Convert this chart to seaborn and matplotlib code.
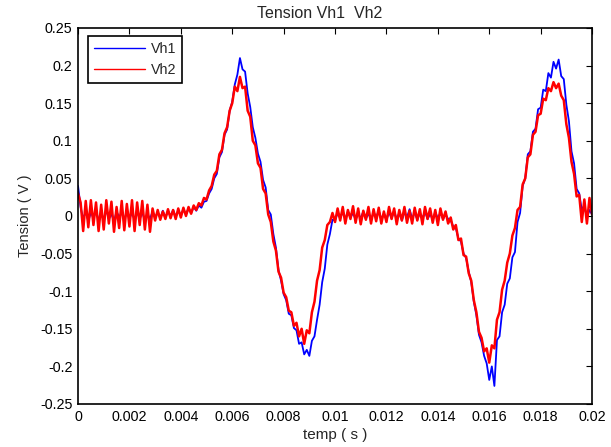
import numpy as np
import pandas as pd
import matplotlib
matplotlib.use("Agg")
import matplotlib.pyplot as plt
import seaborn as sns
from matplotlib.ticker import FuncFormatter

# time grid (s), one sample every 0.1 ms
t = np.linspace(0, 0.02, 201)

# Vh1 (blue)
vh1 = [
    0.040, 0.012, -0.004, 0.006, -0.007, 0.005, -0.003, 0.007, -0.006, 0.004,
    -0.005, 0.008, -0.004, 0.003, -0.007, 0.006, -0.002, 0.005, -0.006, 0.007,
    -0.003, 0.004, -0.005, 0.006, -0.004, 0.005, -0.006, 0.003, -0.004, 0.006,
    -0.002, 0.005, -0.003, 0.007, -0.002, 0.006, 0.000, 0.008, -0.001, 0.007,
    0.001, 0.009, 0.002, 0.010, 0.004, 0.012, 0.007, 0.014, 0.011, 0.019,
    0.020, 0.030, 0.036, 0.050, 0.056, 0.078, 0.085, 0.108, 0.115, 0.140,
    0.152, 0.175, 0.188, 0.210, 0.195, 0.192, 0.163, 0.145, 0.118, 0.104,
    0.083, 0.072, 0.048, 0.038, 0.008, 0.002, -0.024, -0.042, -0.072, -0.086,
    -0.104, -0.112, -0.130, -0.132, -0.149, -0.152, -0.170, -0.168, -0.184, -0.178,
    -0.186, -0.166, -0.160, -0.138, -0.118, -0.088, -0.070, -0.038, -0.024, -0.005,
    -0.006, 0.004, -0.003, 0.005, -0.004, 0.006, -0.002, 0.004, -0.005, 0.003,
    -0.003, 0.006, -0.004, 0.004, -0.006, 0.005, -0.002, 0.007, -0.004, 0.003,
    -0.005, 0.005, -0.003, 0.006, -0.004, 0.004, -0.006, 0.005, -0.002, 0.009,
    -0.004, 0.005, -0.005, 0.004, -0.003, 0.006, -0.004, 0.003, -0.005, 0.005,
    -0.003, 0.004, -0.004, 0.002, -0.004, -0.006, -0.014, -0.016, -0.030, -0.034,
    -0.050, -0.056, -0.074, -0.088, -0.114, -0.132, -0.158, -0.168, -0.186, -0.196,
    -0.218, -0.200, -0.226, -0.165, -0.160, -0.128, -0.118, -0.090, -0.083, -0.055,
    -0.048, -0.008, 0.004, 0.040, 0.050, 0.082, 0.086, 0.112, 0.116, 0.142,
    0.144, 0.168, 0.166, 0.190, 0.184, 0.205, 0.196, 0.208, 0.186, 0.182,
    0.148, 0.126, 0.086, 0.070, 0.036, 0.030, 0.008, 0.014, -0.002, 0.008,
    0.002,
]

# Vh2 (red)
vh2 = [
    0.030, 0.018, -0.020, 0.020, -0.015, 0.021, -0.012, 0.018, -0.020, 0.015,
    -0.018, 0.021, -0.010, 0.019, -0.021, 0.012, -0.016, 0.020, -0.019, 0.016,
    -0.014, 0.021, -0.020, 0.018, -0.012, 0.020, -0.018, 0.015, -0.021, 0.010,
    -0.006, 0.008, -0.005, 0.006, -0.004, 0.009, -0.003, 0.008, -0.004, 0.010,
    -0.002, 0.011, 0.000, 0.012, 0.003, 0.014, 0.008, 0.017, 0.014, 0.024,
    0.022, 0.034, 0.040, 0.055, 0.060, 0.082, 0.088, 0.110, 0.118, 0.140,
    0.150, 0.172, 0.166, 0.185, 0.170, 0.172, 0.140, 0.132, 0.100, 0.094,
    0.070, 0.064, 0.036, 0.030, 0.002, -0.008, -0.034, -0.046, -0.074, -0.082,
    -0.102, -0.108, -0.126, -0.128, -0.146, -0.142, -0.160, -0.150, -0.170, -0.152,
    -0.156, -0.128, -0.114, -0.086, -0.072, -0.042, -0.032, -0.012, -0.008, 0.004,
    -0.008, 0.010, -0.006, 0.012, -0.010, 0.008, -0.004, 0.013, -0.009, 0.010,
    -0.011, 0.007, -0.005, 0.012, -0.010, 0.009, -0.007, 0.011, -0.010, 0.006,
    -0.008, 0.012, -0.004, 0.010, -0.011, 0.008, -0.006, 0.012, -0.009, 0.007,
    -0.010, 0.011, -0.006, 0.009, -0.011, 0.012, -0.004, 0.010, -0.009, 0.008,
    -0.012, 0.010, -0.005, 0.006, -0.010, -0.002, -0.018, -0.012, -0.032, -0.030,
    -0.052, -0.054, -0.076, -0.086, -0.112, -0.128, -0.154, -0.162, -0.180, -0.176,
    -0.195, -0.172, -0.176, -0.138, -0.128, -0.098, -0.086, -0.062, -0.050, -0.026,
    -0.016, 0.008, 0.012, 0.042, 0.050, 0.078, 0.082, 0.108, 0.112, 0.134,
    0.136, 0.156, 0.154, 0.170, 0.166, 0.178, 0.170, 0.176, 0.160, 0.154,
    0.122, 0.104, 0.072, 0.056, 0.026, 0.028, -0.008, 0.022, -0.010, 0.024,
    0.002,
]

xticks = [0, 0.002, 0.004, 0.006, 0.008, 0.01, 0.012, 0.014, 0.016, 0.018, 0.02]
yticks = [-0.25, -0.2, -0.15, -0.1, -0.05, 0, 0.05, 0.1, 0.15, 0.2, 0.25]

df = pd.DataFrame({"t": t, "Vh1": vh1, "Vh2": vh2})

sns.set_style("white")
plt.rcParams["font.family"] = ["Liberation Sans", "DejaVu Sans"]

fig = plt.figure(figsize=(6.11, 4.47), dpi=100)
ax = fig.add_axes([0.1277, 0.0962, 0.8413, 0.8412])

sns.lineplot(data=df, x="t", y="Vh1", color="#0000ff", lw=1.3, label="Vh1", ax=ax)
sns.lineplot(data=df, x="t", y="Vh2", color="#ff0000", lw=1.8, label="Vh2", ax=ax)

ax.set_xlim(0, 0.02)
ax.set_ylim(-0.25, 0.25)
ax.set_xticks(xticks)
ax.set_yticks(yticks)
fmt = FuncFormatter(lambda v, p: "%g" % round(v, 4))
ax.xaxis.set_major_formatter(fmt)
ax.yaxis.set_major_formatter(fmt)
ax.tick_params(direction="in", length=4, width=0.8, labelsize=10.3,
               top=True, right=True, colors="black", pad=4)

for s in ax.spines.values():
    s.set_color("black")
    s.set_linewidth(1.2)

ax.set_title("Tension Vh1  Vh2", fontsize=11.5, pad=7, x=0.47)
ax.set_xlabel("temp ( s )", fontsize=11, labelpad=3)
ax.set_ylabel("Tension ( V )", fontsize=10.5, labelpad=6)

leg = ax.legend(loc="upper left", bbox_to_anchor=(0.019, 0.979), borderaxespad=0,
                fancybox=False, framealpha=1, edgecolor="black", fontsize=10.3,
                handlelength=3.6, borderpad=0.4, labelspacing=0.55, handletextpad=0.4)
leg.get_frame().set_linewidth(1.2)
for line in leg.get_lines():
    line.set_linewidth(1)

fig.savefig("out.png", dpi=100)
